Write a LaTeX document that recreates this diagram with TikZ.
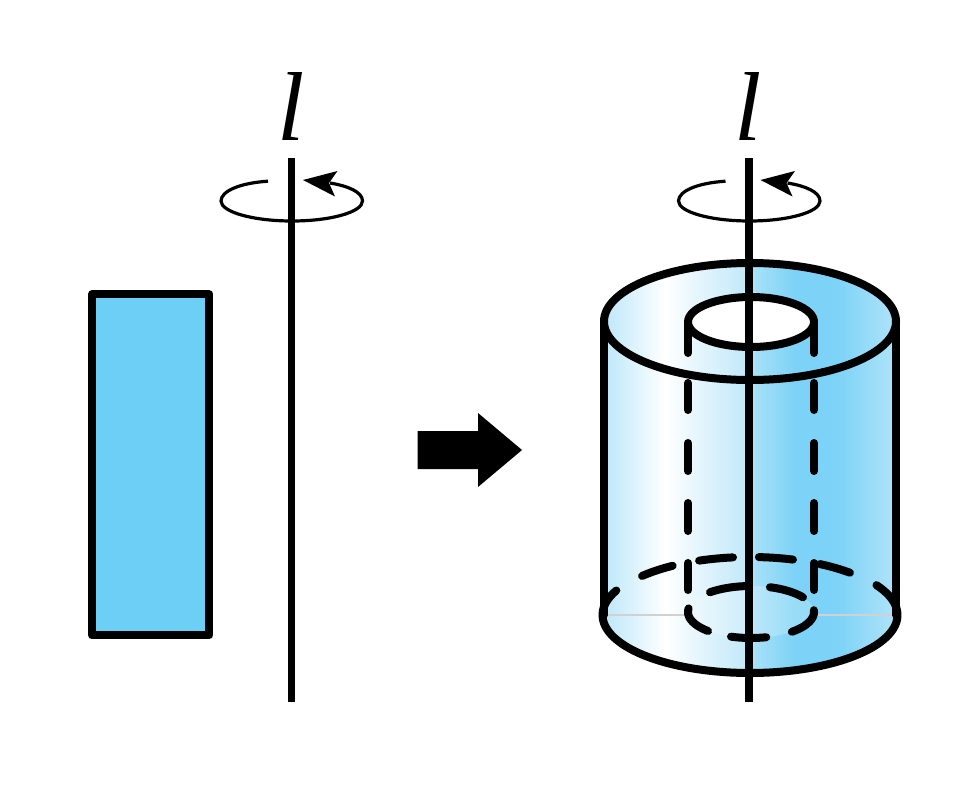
\documentclass[tikz,border=0pt]{standalone}
\usepackage{fontspec}
\setmainfont{Liberation Serif}
\definecolor{cA}{HTML}{BDE7FA}
\definecolor{cB}{HTML}{D6F0FC}
\definecolor{cC}{HTML}{EAF7FD}
\definecolor{cD}{HTML}{C3E9FA}
\definecolor{cE}{HTML}{A6E0F8}
\definecolor{cF}{HTML}{7DD3F7}
\definecolor{cG}{HTML}{B0E3F9}
\definecolor{rectblue}{HTML}{6DCFF6}
\pgfdeclarehorizontalshading{cylshade}{100bp}{
 color(0bp)=(cA);
 color(25bp)=(cA);
 color(29bp)=(cB);
 color(35.5bp)=(white);
 color(40bp)=(cC);
 color(49bp)=(cD);
 color(51bp)=(cE);
 color(57.5bp)=(cF);
 color(65bp)=(cF);
 color(75bp)=(cG);
 color(100bp)=(cG)}
\tikzset{
 x=1pt,y=-1pt,
 thick line/.style={draw=black,line width=8pt,line cap=round,line join=round},
 axis line/.style={draw=black,line width=7.8pt,line cap=butt},
 rot line/.style={draw=black,line width=3.2pt,line cap=butt},
 axis label/.style={font=\fontsize{98}{98}\selectfont\itshape,inner sep=0pt,anchor=base},
}
\begin{document}
\begin{tikzpicture}
\useasboundingbox (0,0) rectangle (968,800);
\fill[white] (0,0) rectangle (968,800);
% left rectangle
\node[thick line,fill=rectblue,minimum width=117.4pt,minimum height=341pt,inner sep=0pt,outer sep=0pt] (rect) at (150.7,464.9) {};
% left axis
\coordinate (la1) at (291.5,158);
\coordinate (la2) at (291.5,702);
\node[axis label] (ll) at (291,140.5) {l};
\draw[rot line] (268,181.2) .. controls (240,183) and (221,191) .. (221,201) .. controls (221,212) and (253,221) .. (292,221) .. controls (331,221) and (362.5,212) .. (362.5,201) .. controls (362.5,192) and (348,186) .. (330,183);
\draw[axis line] (la1) -- (la2);
\fill[black] (303,180) -- (337.5,171) -- (329,183) -- (335,196.5) -- cycle;
% block arrow
\fill[black] (417.5,431) -- (478,431) -- (478,413) -- (522,450) -- (478,487) -- (478,469) -- (417.5,469) -- cycle;
% cylinder body
\shade[shading=cylshade] (604,321.5) -- (604,615) -- plot[domain=180:360,samples=60,variable=\t] ({750+146*cos(\t)},{615-58*sin(\t)}) -- (896,321.5) -- plot[domain=0:180,samples=60,variable=\t] ({750+146*cos(\t)},{321.5-58.5*sin(\t)}) -- cycle;
% thin base line
\draw[black!18,line width=1.2pt] (604,615) -- (688,615) (814,615) -- (896,615);
% lighter inner base
\fill[white,opacity=.22] (751,612) ellipse[x radius=63,y radius=26];
% hole
\fill[white] (751,322) ellipse[x radius=63,y radius=25];
% hidden inner edges
\foreach \xx in {688,814}{
 \draw[thick line] (\xx,322) -- (\xx,353);
 \foreach \ya/\yb in {380/413,440/474,500/534,560/593}
  \draw[thick line] (\xx,\ya+3) -- (\xx,\yb-3);
}
% base back dashes
\foreach \a/\b in {137.7/122,110.4/96.7,86.5/72.9,61.4/46.8}
 \draw[thick line] plot[domain=\b:\a,samples=20,variable=\t] ({750+146*cos(\t)},{615-58*sin(\t)});
% inner base dashes
\foreach \a/\b in {95.5/130.6,34.4/72.5,-49.5/4,-108.5/-76,-188/-133}
 \draw[thick line] plot[domain=\a:\b,samples=20,variable=\t] ({751+63*cos(\t)},{612-26*sin(\t)});
% outer front base and sides
\draw[thick line] plot[domain=155:391,samples=80,variable=\t] ({750+147.5*cos(\t)},{615-58*sin(\t)});
\draw[thick line] (604,321.5) -- (604,615) (896,321.5) -- (896,615);
% top ellipses
\draw[thick line] (750,321.5) ellipse[x radius=146,y radius=58.5];
\draw[thick line] (751,322) ellipse[x radius=63,y radius=25];
% right axis
\coordinate (ra1) at (749,158);
\coordinate (ra2) at (749,702);
\node[axis label] (rl) at (748.5,140.5) {l};
\begin{scope}[xshift=457.5pt]
\draw[rot line] (268,181.2) .. controls (240,183) and (221,191) .. (221,201) .. controls (221,212) and (253,221) .. (292,221) .. controls (331,221) and (362.5,212) .. (362.5,201) .. controls (362.5,192) and (348,186) .. (330,183);
\fill[black] (303,180) -- (337.5,171) -- (329,183) -- (335,196.5) -- cycle;
\end{scope}
\draw[axis line] (ra1) -- (ra2);
\end{tikzpicture}
\end{document}
